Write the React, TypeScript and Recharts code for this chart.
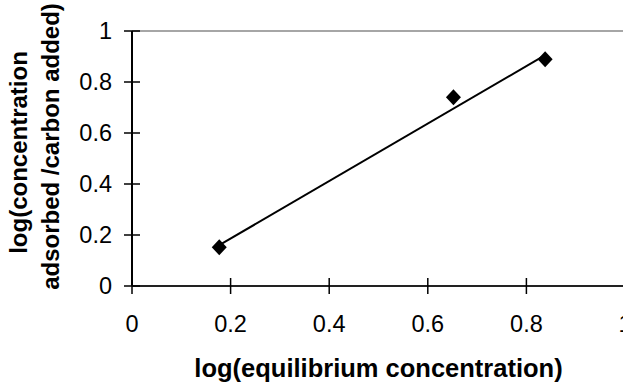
import { ReferenceLine, Scatter, ScatterChart, XAxis, YAxis } from "recharts";

const xTicks = [0, 0.2, 0.4, 0.6, 0.8, 1];
const yTicks = [0, 0.2, 0.4, 0.6, 0.8, 1];

// measured points
const eqConc = [0.177, 0.652, 0.838];
const adsorbed = [0.152, 0.74, 0.889];

// trendline ends
const trendX = [0.177, 0.838];
const trendY = [0.16, 0.905];

const points = eqConc.map((x, i) => ({ x, y: adsorbed[i] }));
const trend = trendX.map((x, i) => ({ x, y: trendY[i] }));

const FONT = "Arial, 'Liberation Sans', Helvetica, sans-serif";
const TICK_SIZE = 8;
const X_MARGIN = 22;
const Y_MARGIN = 12;

function Diamond(props: any) {
  const { cx, cy } = props;
  if (cx == null || cy == null) return null;
  return (
    <polygon
      points={`${cx},${cy - 8} ${cx + 7.5},${cy} ${cx},${cy + 8} ${cx - 7.5},${cy}`}
      fill="#000"
    />
  );
}

function XTick(props: any) {
  const { x, y, payload } = props;
  const axisY = y - TICK_SIZE - X_MARGIN;
  return (
    <g>
      <line x1={x} x2={x} y1={axisY - TICK_SIZE} y2={axisY + TICK_SIZE} stroke="#000" strokeWidth={1.5} />
      <text x={x} y={y - 1} dy="0.71em" textAnchor="middle" fill="#000" fontSize={23.5} fontFamily={FONT}>
        {payload.value}
      </text>
    </g>
  );
}

function YTick(props: any) {
  const { x, y, payload } = props;
  const axisX = x + TICK_SIZE + Y_MARGIN;
  return (
    <g>
      <line x1={axisX - TICK_SIZE} x2={axisX + TICK_SIZE} y1={y} y2={y} stroke="#000" strokeWidth={1.5} />
      <text x={x} y={y} dy="0.355em" textAnchor="end" fill="#000" fontSize={23.5} fontFamily={FONT}>
        {payload.value}
      </text>
    </g>
  );
}

export default function App() {
  return (
    <div style={{ position: "absolute", left: 0, top: 0, width: 623, height: 382, overflow: "hidden", background: "#fff" }}>
      <ScatterChart width={625} height={382} margin={{ top: 31, right: 0, bottom: 0, left: 0 }}>
        <ReferenceLine y={1} stroke="#888" strokeWidth={1.5} />
        <XAxis
          type="number"
          dataKey="x"
          domain={[0, 1]}
          ticks={xTicks}
          interval={0}
          height={96}
          tickSize={TICK_SIZE}
          tickMargin={X_MARGIN}
          tickLine={false}
          axisLine={{ stroke: "#222", strokeWidth: 2 }}
          tick={<XTick />}
          allowDataOverflow
          label={{
            content: (p: any) => {
              const vb = p.viewBox;
              return (
                <text
                  x={vb.x + vb.width / 2}
                  y={377}
                  textAnchor="middle"
                  fontSize={25.5}
                  fontWeight="bold"
                  fontFamily={FONT}
                  fill="#000"
                >
                  log(equilibrium concentration)
                </text>
              );
            },
          }}
        />
        <YAxis
          type="number"
          dataKey="y"
          domain={[0, 1]}
          ticks={yTicks}
          interval={0}
          width={132}
          tickSize={TICK_SIZE}
          tickMargin={Y_MARGIN}
          tickLine={false}
          axisLine={{ stroke: "#000", strokeWidth: 2 }}
          tick={<YTick />}
          label={{
            content: (p: any) => {
              const vb = p.viewBox;
              const cy = vb.y + vb.height / 2;
              return (
                <g fontSize={24} fontWeight="bold" fontFamily={FONT} fill="#000">
                  <text x={27} y={cy - 6} textAnchor="middle" transform={`rotate(-90, 27, ${cy - 6})`}>
                    log(concentration
                  </text>
                  <text x={59} y={cy - 12} textAnchor="middle" transform={`rotate(-90, 59, ${cy - 12})`}>
                    adsorbed /carbon added)
                  </text>
                </g>
              );
            },
          }}
        />
        <Scatter
          data={trend}
          line={{ stroke: "#000", strokeWidth: 2 }}
          shape={() => null}
          isAnimationActive={false}
        />
        <Scatter data={points} shape={<Diamond />} isAnimationActive={false} />
      </ScatterChart>
    </div>
  );
}
